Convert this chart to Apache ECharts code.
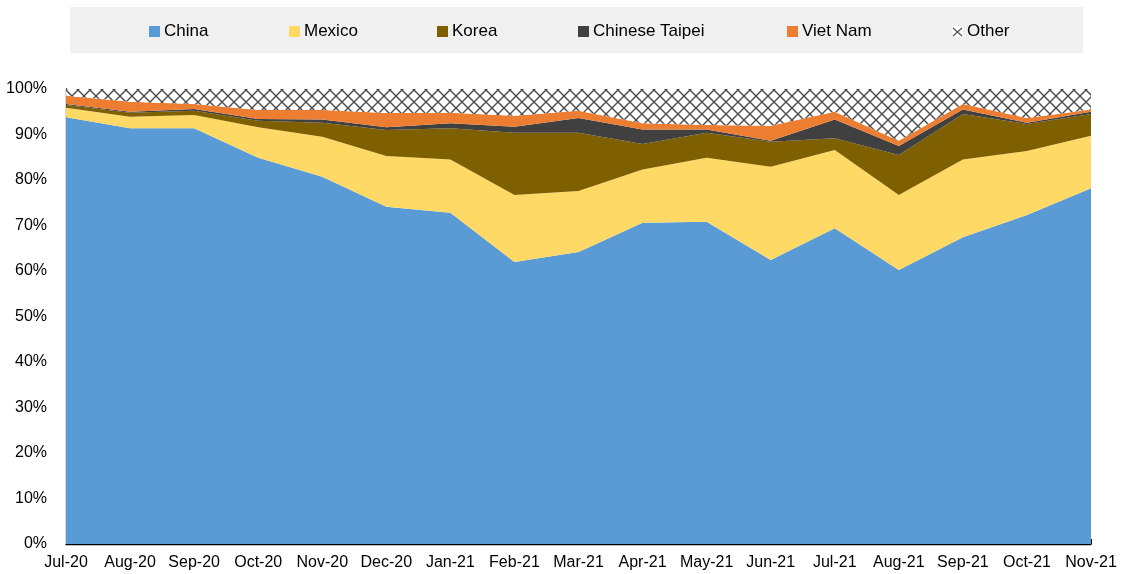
<!DOCTYPE html>
<html>
<head>
<meta charset="utf-8">
<script src="https://cdn.jsdelivr.net/npm/echarts@6/dist/echarts.min.js"></script>
<style>
  html, body { margin: 0; padding: 0; background: #fff; }
  #chart { width: 1122px; height: 574px; }
</style>
</head>
<body>
<div id="chart"></div>
<script>
// months on the x axis
const months = ['Jul-20', 'Aug-20', 'Sep-20', 'Oct-20', 'Nov-20', 'Dec-20', 'Jan-21', 'Feb-21', 'Mar-21',
    'Apr-21', 'May-21', 'Jun-21', 'Jul-21', 'Aug-21', 'Sep-21', 'Oct-21', 'Nov-21'];

// shares in %
const china = [93.8, 91.4, 91.4, 84.9, 80.7, 74.1, 72.8, 62.0, 64.2, 70.6, 70.8, 62.4, 69.4, 60.2, 67.4, 72.3, 78.2];
const mexico = [2.1, 2.5, 2.9, 6.7, 8.8, 11.2, 11.7, 14.7, 13.4, 11.7, 14.1, 20.5, 17.2, 16.5, 17.1, 14.1, 11.5];
const korea = [0.6, 0.9, 0.9, 1.4, 3.1, 5.7, 6.9, 13.7, 12.8, 5.6, 5.5, 5.5, 2.6, 8.8, 10.0, 5.9, 4.8];
const taipei = [0.2, 0.2, 0.4, 0.4, 0.7, 0.6, 1.1, 1.3, 3.2, 3.2, 0.7, 0.2, 4.1, 2.0, 1.0, 0.3, 0.5];
const vietnam = [1.8, 2.2, 1.1, 2.0, 2.1, 3.1, 2.3, 2.4, 1.6, 1.4, 1.0, 3.3, 1.7, 1.1, 1.2, 1.0, 0.5];
const other = [1.5, 2.8, 3.3, 4.6, 4.6, 5.3, 5.2, 5.9, 4.8, 7.5, 7.9, 8.1, 5.0, 11.4, 3.3, 6.4, 4.5];

const yTicks = [0, 10, 20, 30, 40, 50, 60, 70, 80, 90, 100];

// legend entries and where each one starts
const legendNames = ['China', 'Mexico', 'Korea', 'Chinese Taipei', 'Viet Nam', 'Other'];
const legendLeft = [149, 289, 437, 578, 787, 952];

// the original uses a narrow Arial; fall back to regular Liberation Sans at a smaller size
function hasFont(name) {
    const ctx = document.createElement('canvas').getContext('2d');
    const s = 'Chinese Taipei 100%';
    ctx.font = '20px monospace';
    const a = ctx.measureText(s).width;
    ctx.font = '20px "' + name + '", monospace';
    return ctx.measureText(s).width !== a;
}
const narrow = hasFont('Liberation Sans Narrow');
const FONT = narrow ? '"Liberation Sans Narrow"' : '"Liberation Sans", Arial, sans-serif';
const LEGEND_SIZE = narrow ? 21 : 17;
const AXIS_SIZE = narrow ? 19 : 16;

// diamond lattice used for "Other"
function makeHatch(size) {
    const c = document.createElement('canvas');
    c.width = size;
    c.height = size;
    const ctx = c.getContext('2d');
    ctx.fillStyle = '#ffffff';
    ctx.fillRect(0, 0, size, size);
    ctx.strokeStyle = '#4a4a4a';
    ctx.lineWidth = 1.4;
    ctx.beginPath();
    ctx.moveTo(0, 0); ctx.lineTo(size, size);
    ctx.moveTo(size, 0); ctx.lineTo(0, size);
    ctx.stroke();
    return c;
}

function makeLegendX() {
    const c = document.createElement('canvas');
    c.width = 11;
    c.height = 11;
    const ctx = c.getContext('2d');
    ctx.fillStyle = '#ffffff';
    ctx.fillRect(0, 0, 11, 11);
    ctx.strokeStyle = '#555';
    ctx.lineWidth = 1.3;
    ctx.beginPath();
    ctx.moveTo(1, 2); ctx.lineTo(10, 10);
    ctx.moveTo(10, 2); ctx.lineTo(1, 10);
    ctx.stroke();
    return c.toDataURL();
}

const hatch = makeHatch(12);

function areaSeries(name, data, color) {
    return {
        name: name,
        type: 'line',
        stack: 'total',
        data: data,
        symbol: 'none',
        lineStyle: { width: 0 },
        itemStyle: { color: color },
        areaStyle: { color: color, opacity: 1 },
        emphasis: { disabled: true }
    };
}

const legendX = 'image://' + makeLegendX();
const legends = legendNames.map((name, i) => {
    return {
        left: legendLeft[i],
        top: Math.round(31 - LEGEND_SIZE / 2),
        padding: 0,
        itemWidth: 11,
        itemHeight: 11,
        itemGap: 0,
        textStyle: { fontFamily: FONT, fontSize: LEGEND_SIZE, color: '#000', padding: [0, 0, 0, -1] },
        data: [{ name: name, icon: name === 'Other' ? legendX : 'rect' }]
    };
});

const chart = echarts.init(document.getElementById('chart'));

const option = {
    backgroundColor: '#ffffff',
    animation: false,
    graphic: [{
        type: 'rect',
        left: 70,
        top: 7,
        shape: { width: 1013, height: 46 },
        style: { fill: '#f0f0f0' },
        z: -1
    }],
    legend: legends,
    grid: { left: 66, right: 31, top: 89, bottom: 30, containLabel: false, outerBoundsMode: 'none' },
    xAxis: {
        type: 'category',
        data: months,
        boundaryGap: false,
        axisLine: { lineStyle: { color: '#000', width: 1.3 } },
        axisTick: { inside: true, length: 5, lineStyle: { color: '#000' } },
        axisLabel: { fontFamily: FONT, fontSize: AXIS_SIZE, color: '#000', margin: Math.round(19 - AXIS_SIZE / 2), interval: 0, hideOverlap: false },
        splitLine: { show: false }
    },
    yAxis: {
        type: 'value',
        min: yTicks[0],
        max: yTicks[yTicks.length - 1],
        interval: 10,
        axisLine: { show: true, lineStyle: { color: '#000', width: 1.3 } },
        axisTick: { show: true, inside: true, length: 5, lineStyle: { color: '#000' } },
        axisLabel: { fontFamily: FONT, fontSize: AXIS_SIZE, color: '#000', margin: 19, formatter: '{value}%' },
        splitLine: { show: false }
    },
    series: [
        areaSeries('China', china, '#5b9bd5'),
        areaSeries('Mexico', mexico, '#ffd966'),
        areaSeries('Korea', korea, '#7f6000'),
        areaSeries('Chinese Taipei', taipei, '#404040'),
        areaSeries('Viet Nam', vietnam, '#ed7d31'),
        {
            name: 'Other',
            type: 'line',
            stack: 'total',
            data: other,
            symbol: 'none',
            lineStyle: { width: 0 },
            itemStyle: { color: '#555' },
            areaStyle: { color: { image: hatch, repeat: 'repeat' }, opacity: 1 },
            emphasis: { disabled: true }
        }
    ]
};

chart.setOption(option);
</script>
</body>
</html>
